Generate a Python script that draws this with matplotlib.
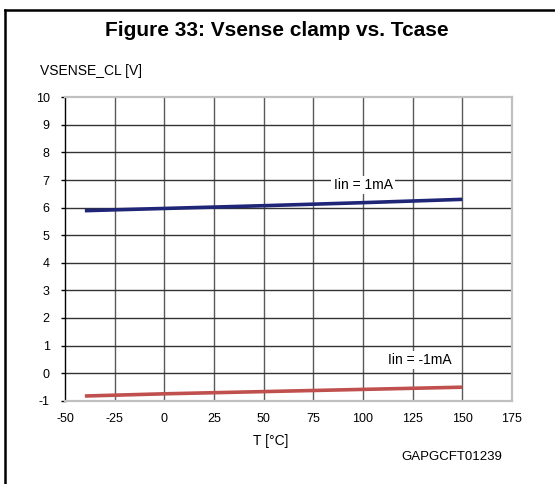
import matplotlib.pyplot as plt
from matplotlib.lines import Line2D

plt.rcParams["font.family"] = ["Liberation Sans", "DejaVu Sans"]
plt.rcParams["axes.unicode_minus"] = False

temps = [-40, 0, 50, 100, 150]
vclamp_pos = [5.89, 5.97, 6.07, 6.18, 6.30]
vclamp_neg = [-0.83, -0.75, -0.67, -0.59, -0.51]
x_ticks = [-50, -25, 0, 25, 50, 75, 100, 125, 150, 175]
y_ticks = list(range(-1, 11))

W, H = 555, 484
fig = plt.figure(figsize=(W / 100, H / 100), dpi=100)
ax = fig.add_axes([65 / W, 1 - 400.7 / H, (512 - 65) / W, (400.7 - 97.3) / H])

# grid
for x in x_ticks[1:-1]:
    ax.axvline(x, color="#5a5a5a", lw=1.0, zorder=1)
for y in y_ticks[1:-1]:
    ax.axhline(y, color="#333333", lw=1.0, zorder=1)

ax.plot(temps, vclamp_pos, color="#1f2677", lw=2.6, solid_capstyle="butt", zorder=3)
ax.plot(temps, vclamp_neg, color="#c0504d", lw=2.6, solid_capstyle="butt", zorder=3)

box = dict(facecolor="white", edgecolor="none", pad=1.5)
ax.text(100, 6.82, "Iin = 1mA", ha="center", va="center", fontsize=10, bbox=box, zorder=4)
ax.text(128.7, 0.47, "Iin = -1mA", ha="center", va="center", fontsize=10, bbox=box, zorder=4)

ax.set_xlim(-50, 175)
ax.set_ylim(-1, 10)
ax.set_xticks(x_ticks)
ax.set_yticks(y_ticks)
ax.tick_params(axis="x", length=0, pad=9, labelsize=9)
ax.tick_params(axis="y", length=3, width=1, pad=8, labelsize=9, direction="out")

for side in ["top", "right", "bottom"]:
    ax.spines[side].set_color("#c0c0c0")
    ax.spines[side].set_linewidth(1.6)
ax.spines["left"].set_color("black")
ax.spines["left"].set_linewidth(1.0)

fig.text(277 / W, 1 - 30 / H, "Figure 33: Vsense clamp vs. Tcase",
         ha="center", va="center", fontsize=15, fontweight="bold")
fig.text(40 / W, 1 - 71 / H, "VSENSE_CL [V]", ha="left", va="center", fontsize=10)
fig.text(271 / W, 1 - 441 / H, "T [°C]", ha="center", va="center", fontsize=10)
fig.text(502 / W, 1 - 457 / H, "GAPGCFT01239", ha="right", va="center", fontsize=9.5)

# outer frame (top and left edges)
fig.add_artist(Line2D([5 / W, 5 / W], [0, 1 - 10 / H], color="black", lw=1.8))
fig.add_artist(Line2D([5 / W, 1], [1 - 10 / H, 1 - 10 / H], color="black", lw=1.8))

fig.savefig("out.png", dpi=100)
